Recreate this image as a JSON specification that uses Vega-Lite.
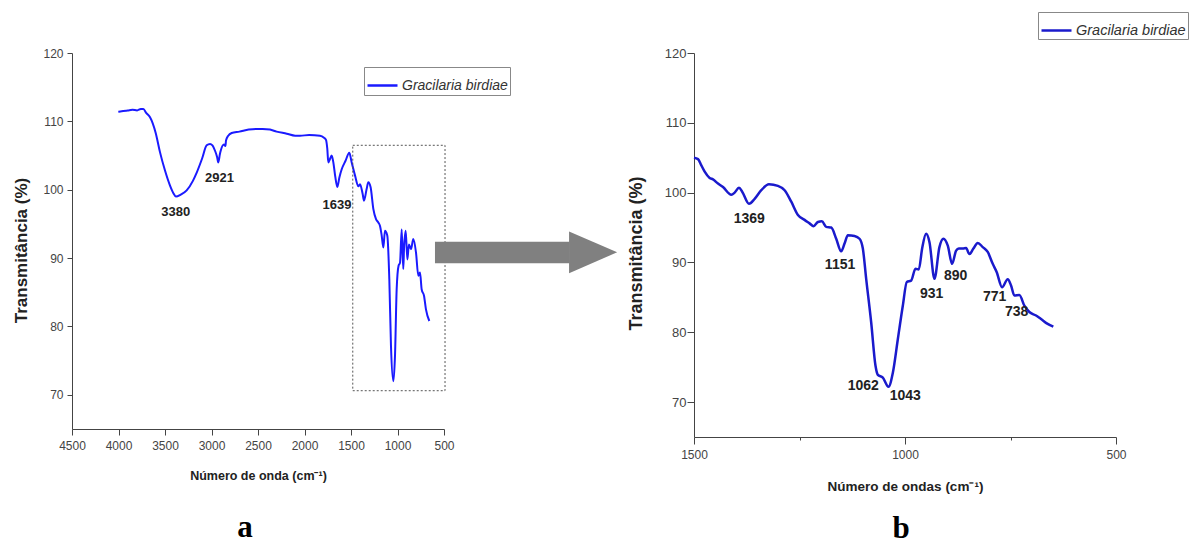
{
  "$schema": "https://vega.github.io/schema/vega-lite/v6.json",
  "padding": {"left": 12, "top": 11, "right": 0, "bottom": 0},
  "background": "white",
  "bounds": "flush",
  "spacing": 250,
  "resolve": {"scale": {"color": "independent"}, "legend": {"color": "independent"}},
  "config": {
    "view": {"stroke": null},
    "axis": {"grid": false, "labelOverlap": false, "labelFlush": false, "domainColor": "#444", "tickColor": "#444", "labelColor": "#444", "titleColor": "#222", "titleFontWeight": "bold"}
  },
  "datasets": {
    "specA": [
      {"w": 4002, "T": 111.4, "s": "Gracilaria birdiae"},
      {"w": 3950, "T": 111.5, "s": "Gracilaria birdiae"},
      {"w": 3900, "T": 111.6, "s": "Gracilaria birdiae"},
      {"w": 3850, "T": 111.7, "s": "Gracilaria birdiae"},
      {"w": 3800, "T": 111.6, "s": "Gracilaria birdiae"},
      {"w": 3760, "T": 111.8, "s": "Gracilaria birdiae"},
      {"w": 3733, "T": 111.8, "s": "Gracilaria birdiae"},
      {"w": 3700, "T": 111.2, "s": "Gracilaria birdiae"},
      {"w": 3661, "T": 110.6, "s": "Gracilaria birdiae"},
      {"w": 3600, "T": 108.3, "s": "Gracilaria birdiae"},
      {"w": 3554, "T": 105.5, "s": "Gracilaria birdiae"},
      {"w": 3500, "T": 102.8, "s": "Gracilaria birdiae"},
      {"w": 3446, "T": 100.6, "s": "Gracilaria birdiae"},
      {"w": 3410, "T": 99.5, "s": "Gracilaria birdiae"},
      {"w": 3382, "T": 99.0, "s": "Gracilaria birdiae"},
      {"w": 3330, "T": 99.3, "s": "Gracilaria birdiae"},
      {"w": 3267, "T": 99.9, "s": "Gracilaria birdiae"},
      {"w": 3200, "T": 101.3, "s": "Gracilaria birdiae"},
      {"w": 3159, "T": 102.5, "s": "Gracilaria birdiae"},
      {"w": 3100, "T": 104.6, "s": "Gracilaria birdiae"},
      {"w": 3052, "T": 106.5, "s": "Gracilaria birdiae"},
      {"w": 3016, "T": 106.7, "s": "Gracilaria birdiae"},
      {"w": 2990, "T": 106.5, "s": "Gracilaria birdiae"},
      {"w": 2962, "T": 105.7, "s": "Gracilaria birdiae"},
      {"w": 2940, "T": 104.8, "s": "Gracilaria birdiae"},
      {"w": 2927, "T": 104.0, "s": "Gracilaria birdiae"},
      {"w": 2910, "T": 105.2, "s": "Gracilaria birdiae"},
      {"w": 2901, "T": 105.7, "s": "Gracilaria birdiae"},
      {"w": 2866, "T": 106.6, "s": "Gracilaria birdiae"},
      {"w": 2850, "T": 106.4, "s": "Gracilaria birdiae"},
      {"w": 2844, "T": 107.2, "s": "Gracilaria birdiae"},
      {"w": 2820, "T": 107.9, "s": "Gracilaria birdiae"},
      {"w": 2783, "T": 108.3, "s": "Gracilaria birdiae"},
      {"w": 2700, "T": 108.5, "s": "Gracilaria birdiae"},
      {"w": 2600, "T": 108.8, "s": "Gracilaria birdiae"},
      {"w": 2514, "T": 108.9, "s": "Gracilaria birdiae"},
      {"w": 2450, "T": 108.9, "s": "Gracilaria birdiae"},
      {"w": 2371, "T": 108.8, "s": "Gracilaria birdiae"},
      {"w": 2300, "T": 108.5, "s": "Gracilaria birdiae"},
      {"w": 2191, "T": 108.2, "s": "Gracilaria birdiae"},
      {"w": 2100, "T": 107.9, "s": "Gracilaria birdiae"},
      {"w": 2048, "T": 107.9, "s": "Gracilaria birdiae"},
      {"w": 1950, "T": 108.0, "s": "Gracilaria birdiae"},
      {"w": 1833, "T": 107.9, "s": "Gracilaria birdiae"},
      {"w": 1790, "T": 107.6, "s": "Gracilaria birdiae"},
      {"w": 1769, "T": 107.3, "s": "Gracilaria birdiae"},
      {"w": 1755, "T": 106.0, "s": "Gracilaria birdiae"},
      {"w": 1744, "T": 104.0, "s": "Gracilaria birdiae"},
      {"w": 1726, "T": 104.5, "s": "Gracilaria birdiae"},
      {"w": 1708, "T": 105.0, "s": "Gracilaria birdiae"},
      {"w": 1690, "T": 104.0, "s": "Gracilaria birdiae"},
      {"w": 1670, "T": 102.0, "s": "Gracilaria birdiae"},
      {"w": 1647, "T": 100.4, "s": "Gracilaria birdiae"},
      {"w": 1625, "T": 101.8, "s": "Gracilaria birdiae"},
      {"w": 1600, "T": 103.0, "s": "Gracilaria birdiae"},
      {"w": 1560, "T": 104.2, "s": "Gracilaria birdiae"},
      {"w": 1518, "T": 105.4, "s": "Gracilaria birdiae"},
      {"w": 1493, "T": 104.0, "s": "Gracilaria birdiae"},
      {"w": 1457, "T": 102.1, "s": "Gracilaria birdiae"},
      {"w": 1421, "T": 100.5, "s": "Gracilaria birdiae"},
      {"w": 1403, "T": 100.8, "s": "Gracilaria birdiae"},
      {"w": 1375, "T": 99.4, "s": "Gracilaria birdiae"},
      {"w": 1360, "T": 98.4, "s": "Gracilaria birdiae"},
      {"w": 1332, "T": 100.1, "s": "Gracilaria birdiae"},
      {"w": 1314, "T": 101.1, "s": "Gracilaria birdiae"},
      {"w": 1289, "T": 100.35, "s": "Gracilaria birdiae"},
      {"w": 1260, "T": 97.2, "s": "Gracilaria birdiae"},
      {"w": 1231, "T": 95.7, "s": "Gracilaria birdiae"},
      {"w": 1206, "T": 95.2, "s": "Gracilaria birdiae"},
      {"w": 1188, "T": 94.7, "s": "Gracilaria birdiae"},
      {"w": 1170, "T": 93.3, "s": "Gracilaria birdiae"},
      {"w": 1152, "T": 91.55, "s": "Gracilaria birdiae"},
      {"w": 1135, "T": 94.0, "s": "Gracilaria birdiae"},
      {"w": 1110, "T": 93.3, "s": "Gracilaria birdiae"},
      {"w": 1088, "T": 86.9, "s": "Gracilaria birdiae"},
      {"w": 1070, "T": 77.1, "s": "Gracilaria birdiae"},
      {"w": 1045, "T": 72.0, "s": "Gracilaria birdiae"},
      {"w": 1027, "T": 75.7, "s": "Gracilaria birdiae"},
      {"w": 1009, "T": 85.4, "s": "Gracilaria birdiae"},
      {"w": 988, "T": 88.9, "s": "Gracilaria birdiae"},
      {"w": 973, "T": 89.3, "s": "Gracilaria birdiae"},
      {"w": 955, "T": 94.2, "s": "Gracilaria birdiae"},
      {"w": 938, "T": 88.4, "s": "Gracilaria birdiae"},
      {"w": 930, "T": 91.3, "s": "Gracilaria birdiae"},
      {"w": 912, "T": 94.0, "s": "Gracilaria birdiae"},
      {"w": 894, "T": 89.8, "s": "Gracilaria birdiae"},
      {"w": 877, "T": 92.0, "s": "Gracilaria birdiae"},
      {"w": 855, "T": 91.3, "s": "Gracilaria birdiae"},
      {"w": 830, "T": 92.8, "s": "Gracilaria birdiae"},
      {"w": 801, "T": 90.8, "s": "Gracilaria birdiae"},
      {"w": 776, "T": 87.4, "s": "Gracilaria birdiae"},
      {"w": 758, "T": 87.9, "s": "Gracilaria birdiae"},
      {"w": 740, "T": 85.4, "s": "Gracilaria birdiae"},
      {"w": 715, "T": 84.5, "s": "Gracilaria birdiae"},
      {"w": 694, "T": 82.5, "s": "Gracilaria birdiae"},
      {"w": 658, "T": 80.8, "s": "Gracilaria birdiae"}
    ],
    "specB": [
      {"w": 1500, "T": 105.0, "s": "Gracilaria birdiae"},
      {"w": 1490.5, "T": 104.8, "s": "Gracilaria birdiae"},
      {"w": 1482.6, "T": 103.9, "s": "Gracilaria birdiae"},
      {"w": 1474.7, "T": 103.0, "s": "Gracilaria birdiae"},
      {"w": 1462.9, "T": 102.1, "s": "Gracilaria birdiae"},
      {"w": 1455, "T": 101.9, "s": "Gracilaria birdiae"},
      {"w": 1443.1, "T": 101.3, "s": "Gracilaria birdiae"},
      {"w": 1431.3, "T": 100.8, "s": "Gracilaria birdiae"},
      {"w": 1411.6, "T": 99.7, "s": "Gracilaria birdiae"},
      {"w": 1403.7, "T": 100.0, "s": "Gracilaria birdiae"},
      {"w": 1393.4, "T": 100.7, "s": "Gracilaria birdiae"},
      {"w": 1385.5, "T": 100.1, "s": "Gracilaria birdiae"},
      {"w": 1369.7, "T": 98.4, "s": "Gracilaria birdiae"},
      {"w": 1356.3, "T": 99.1, "s": "Gracilaria birdiae"},
      {"w": 1340.5, "T": 100.35, "s": "Gracilaria birdiae"},
      {"w": 1322.4, "T": 101.2, "s": "Gracilaria birdiae"},
      {"w": 1301.1, "T": 100.97, "s": "Gracilaria birdiae"},
      {"w": 1285.3, "T": 100.35, "s": "Gracilaria birdiae"},
      {"w": 1269.5, "T": 98.7, "s": "Gracilaria birdiae"},
      {"w": 1253.7, "T": 96.8, "s": "Gracilaria birdiae"},
      {"w": 1238, "T": 96.1, "s": "Gracilaria birdiae"},
      {"w": 1226.1, "T": 95.6, "s": "Gracilaria birdiae"},
      {"w": 1216.7, "T": 95.2, "s": "Gracilaria birdiae"},
      {"w": 1206.4, "T": 95.8, "s": "Gracilaria birdiae"},
      {"w": 1197, "T": 95.9, "s": "Gracilaria birdiae"},
      {"w": 1186.7, "T": 95.1, "s": "Gracilaria birdiae"},
      {"w": 1174.8, "T": 95.0, "s": "Gracilaria birdiae"},
      {"w": 1163, "T": 93.4, "s": "Gracilaria birdiae"},
      {"w": 1151.2, "T": 91.6, "s": "Gracilaria birdiae"},
      {"w": 1143.3, "T": 92.7, "s": "Gracilaria birdiae"},
      {"w": 1135.4, "T": 93.9, "s": "Gracilaria birdiae"},
      {"w": 1119.6, "T": 93.8, "s": "Gracilaria birdiae"},
      {"w": 1107.8, "T": 93.4, "s": "Gracilaria birdiae"},
      {"w": 1099.9, "T": 92.0, "s": "Gracilaria birdiae"},
      {"w": 1092, "T": 87.65, "s": "Gracilaria birdiae"},
      {"w": 1080.1, "T": 81.4, "s": "Gracilaria birdiae"},
      {"w": 1069.9, "T": 75.2, "s": "Gracilaria birdiae"},
      {"w": 1064.4, "T": 73.9, "s": "Gracilaria birdiae"},
      {"w": 1052.5, "T": 73.5, "s": "Gracilaria birdiae"},
      {"w": 1039.1, "T": 72.2, "s": "Gracilaria birdiae"},
      {"w": 1028.8, "T": 74.2, "s": "Gracilaria birdiae"},
      {"w": 1017, "T": 79.0, "s": "Gracilaria birdiae"},
      {"w": 1005.2, "T": 83.8, "s": "Gracilaria birdiae"},
      {"w": 995.7, "T": 87.2, "s": "Gracilaria birdiae"},
      {"w": 985.5, "T": 87.4, "s": "Gracilaria birdiae"},
      {"w": 975.2, "T": 89.1, "s": "Gracilaria birdiae"},
      {"w": 967.3, "T": 89.0, "s": "Gracilaria birdiae"},
      {"w": 959.4, "T": 92.0, "s": "Gracilaria birdiae"},
      {"w": 950, "T": 94.1, "s": "Gracilaria birdiae"},
      {"w": 942, "T": 92.9, "s": "Gracilaria birdiae"},
      {"w": 930.2, "T": 87.65, "s": "Gracilaria birdiae"},
      {"w": 918.4, "T": 92.2, "s": "Gracilaria birdiae"},
      {"w": 908.9, "T": 93.4, "s": "Gracilaria birdiae"},
      {"w": 898.6, "T": 92.4, "s": "Gracilaria birdiae"},
      {"w": 888.4, "T": 89.8, "s": "Gracilaria birdiae"},
      {"w": 878.9, "T": 91.7, "s": "Gracilaria birdiae"},
      {"w": 872.6, "T": 92.0, "s": "Gracilaria birdiae"},
      {"w": 863.1, "T": 92.0, "s": "Gracilaria birdiae"},
      {"w": 855.2, "T": 92.06, "s": "Gracilaria birdiae"},
      {"w": 847.4, "T": 91.2, "s": "Gracilaria birdiae"},
      {"w": 837.9, "T": 92.0, "s": "Gracilaria birdiae"},
      {"w": 827.6, "T": 92.8, "s": "Gracilaria birdiae"},
      {"w": 815.8, "T": 92.2, "s": "Gracilaria birdiae"},
      {"w": 804, "T": 91.5, "s": "Gracilaria birdiae"},
      {"w": 792.1, "T": 89.8, "s": "Gracilaria birdiae"},
      {"w": 782.6, "T": 88.6, "s": "Gracilaria birdiae"},
      {"w": 770, "T": 86.45, "s": "Gracilaria birdiae"},
      {"w": 756.6, "T": 87.6, "s": "Gracilaria birdiae"},
      {"w": 748.7, "T": 86.7, "s": "Gracilaria birdiae"},
      {"w": 740.8, "T": 85.25, "s": "Gracilaria birdiae"},
      {"w": 729, "T": 85.35, "s": "Gracilaria birdiae"},
      {"w": 717.1, "T": 83.8, "s": "Gracilaria birdiae"},
      {"w": 705.3, "T": 82.9, "s": "Gracilaria birdiae"},
      {"w": 689.5, "T": 82.4, "s": "Gracilaria birdiae"},
      {"w": 677.7, "T": 81.9, "s": "Gracilaria birdiae"},
      {"w": 661.9, "T": 81.2, "s": "Gracilaria birdiae"},
      {"w": 648.5, "T": 80.8, "s": "Gracilaria birdiae"}
    ],
    "peaksA": [
      {"w": 3385, "T": 96.8, "label": "3380"},
      {"w": 2914, "T": 101.7, "label": "2921"},
      {"w": 1650, "T": 97.7, "label": "1639"}
    ],
    "peaksB": [
      {"w": 1368.9, "T": 96.27, "label": "1369"},
      {"w": 1153.9, "T": 89.69, "label": "1151"},
      {"w": 1099, "T": 72.36, "label": "1062"},
      {"w": 999.3, "T": 70.86, "label": "1043"},
      {"w": 936.8, "T": 85.49, "label": "931"},
      {"w": 880, "T": 88.08, "label": "890"},
      {"w": 787.4, "T": 85.0, "label": "771"},
      {"w": 735.6, "T": 82.86, "label": "738"}
    ],
    "zoomBox": [{"x1": 1481, "x2": 489, "y1": 70.6, "y2": 106.5}],
    "arrowBody": [{"x1": 597, "x2": -850, "y1": 92.4, "y2": 89.25}],
    "arrowHead": [
      {"hx": -845, "hlo": 87.8, "hhi": 93.9},
      {"hx": -1362, "hlo": 90.85, "hhi": 90.85}
    ]
  },
  "hconcat": [
    {
      "width": 372,
      "height": 376,
      "title": {"text": "a", "orient": "bottom", "anchor": "middle", "frame": "group", "dx": -13, "offset": 31, "font": "Liberation Serif", "fontSize": 31, "fontWeight": "bold", "color": "#000"},
      "layer": [
        {
          "data": {"name": "specA"},
          "mark": {"type": "line", "strokeWidth": 2, "interpolate": "monotone"},
          "encoding": {
            "x": {"field": "w", "type": "quantitative",
              "scale": {"domain": [4500, 500], "nice": false, "zero": false},
              "axis": {"title": "Número de onda (cm⁻¹)", "values": [4500, 4250, 4000, 3750, 3500, 3250, 3000, 2750, 2500, 2250, 2000, 1750, 1500, 1250, 1000, 750, 500],
                "labelExpr": "datum.value % 500 === 0 ? datum.label : ''", "format": "d",
                "tickSize": {"condition": {"test": "datum.value % 500 === 0", "value": 6}, "value": 3},
                "labelFont": "Liberation Sans", "labelFontSize": 12, "labelPadding": 5,
                "titleFont": "Liberation Sans", "titleFontSize": 12.5, "titlePadding": 18}},
            "y": {"field": "T", "type": "quantitative",
              "scale": {"domain": [65, 120], "nice": false, "zero": false},
              "axis": {"title": "Transmitância (%)", "values": [70, 80, 90, 100, 110, 120],
                "tickSize": 5,
                "labelFont": "Liberation Sans", "labelFontSize": 12, "labelPadding": 4,
                "titleFont": "Liberation Sans", "titleFontSize": 17, "titlePadding": 12, "titleY": 197}},
            "color": {"field": "s", "type": "nominal",
              "scale": {"domain": ["Gracilaria birdiae"], "range": ["#1a1aff"]},
              "legend": {"orient": "none", "legendX": 292, "legendY": 14, "title": null,
                "symbolType": "stroke", "symbolSize": 900, "symbolStrokeWidth": 2.5,
                "labelFont": "Liberation Sans", "labelFontStyle": "italic", "labelFontSize": 14, "labelColor": "#333", "labelOffset": 3,
                "strokeColor": "#888", "fillColor": "white", "padding": 2}}
          }
        },
        {
          "data": {"name": "zoomBox"},
          "mark": {"type": "rect", "filled": false, "color": "#555", "strokeWidth": 1, "strokeDash": [2, 2]},
          "encoding": {
            "x": {"field": "x1", "type": "quantitative"},
            "x2": {"field": "x2"},
            "y": {"field": "y1", "type": "quantitative"},
            "y2": {"field": "y2"}
          }
        },
        {
          "data": {"name": "arrowBody"},
          "mark": {"type": "rect", "color": "#808080", "clip": false},
          "encoding": {
            "x": {"field": "x1", "type": "quantitative"},
            "x2": {"field": "x2"},
            "y": {"field": "y1", "type": "quantitative"},
            "y2": {"field": "y2"}
          }
        },
        {
          "data": {"name": "arrowHead"},
          "mark": {"type": "area", "color": "#808080", "clip": false, "orient": "vertical", "opacity": 1},
          "encoding": {
            "x": {"field": "hx", "type": "quantitative"},
            "y": {"field": "hlo", "type": "quantitative"},
            "y2": {"field": "hhi"}
          }
        },
        {
          "data": {"name": "peaksA"},
          "mark": {"type": "text", "font": "Liberation Sans", "fontSize": 13, "fontWeight": "bold", "color": "#222", "align": "center", "baseline": "middle"},
          "encoding": {
            "x": {"field": "w", "type": "quantitative"},
            "y": {"field": "T", "type": "quantitative"},
            "text": {"field": "label"}
          }
        }
      ]
    },
    {
      "width": 422,
      "height": 384,
      "title": {"text": "b", "orient": "bottom", "anchor": "middle", "frame": "group", "dx": -4, "offset": 21, "font": "Liberation Serif", "fontSize": 31, "fontWeight": "bold", "color": "#000"},
      "layer": [
        {
          "data": {"name": "specB"},
          "mark": {"type": "line", "strokeWidth": 2.5, "interpolate": "monotone"},
          "encoding": {
            "x": {"field": "w", "type": "quantitative",
              "scale": {"domain": [1500, 500], "nice": false, "zero": false},
              "axis": {"title": "Número de ondas (cm⁻¹)", "values": [1500, 1250, 1000, 750, 500],
                "labelExpr": "datum.value % 500 === 0 ? datum.label : ''", "format": "d",
                "tickSize": {"condition": {"test": "datum.value % 500 === 0", "value": 7}, "value": 3},
                "labelFont": "Liberation Sans", "labelFontSize": 12, "labelPadding": 5,
                "titleFont": "Liberation Sans", "titleFontSize": 13.5, "titlePadding": 19}},
            "y": {"field": "T", "type": "quantitative",
              "scale": {"domain": [65, 120], "nice": false, "zero": false},
              "axis": {"title": "Transmitância (%)", "values": [70, 80, 90, 100, 110, 120],
                "tickSize": 7,
                "labelFont": "Liberation Sans", "labelFontSize": 13, "labelPadding": 1,
                "titleFont": "Liberation Sans", "titleFontSize": 18, "titlePadding": 19, "titleY": 200}},
            "color": {"field": "s", "type": "nominal",
              "scale": {"domain": ["Gracilaria birdiae"], "range": ["#1a1acc"]},
              "legend": {"orient": "none", "legendX": 344, "legendY": -41, "title": null,
                "symbolType": "stroke", "symbolSize": 900, "symbolStrokeWidth": 2.5,
                "labelFont": "Liberation Sans", "labelFontStyle": "italic", "labelFontSize": 14.5, "labelColor": "#333", "labelOffset": 3,
                "strokeColor": "#888", "fillColor": "white", "padding": 2}}
          }
        },
        {
          "data": {"name": "peaksB"},
          "mark": {"type": "text", "font": "Liberation Sans", "fontSize": 14, "fontWeight": "bold", "color": "#222", "align": "center", "baseline": "middle"},
          "encoding": {
            "x": {"field": "w", "type": "quantitative"},
            "y": {"field": "T", "type": "quantitative"},
            "text": {"field": "label"}
          }
        }
      ]
    }
  ]
}
